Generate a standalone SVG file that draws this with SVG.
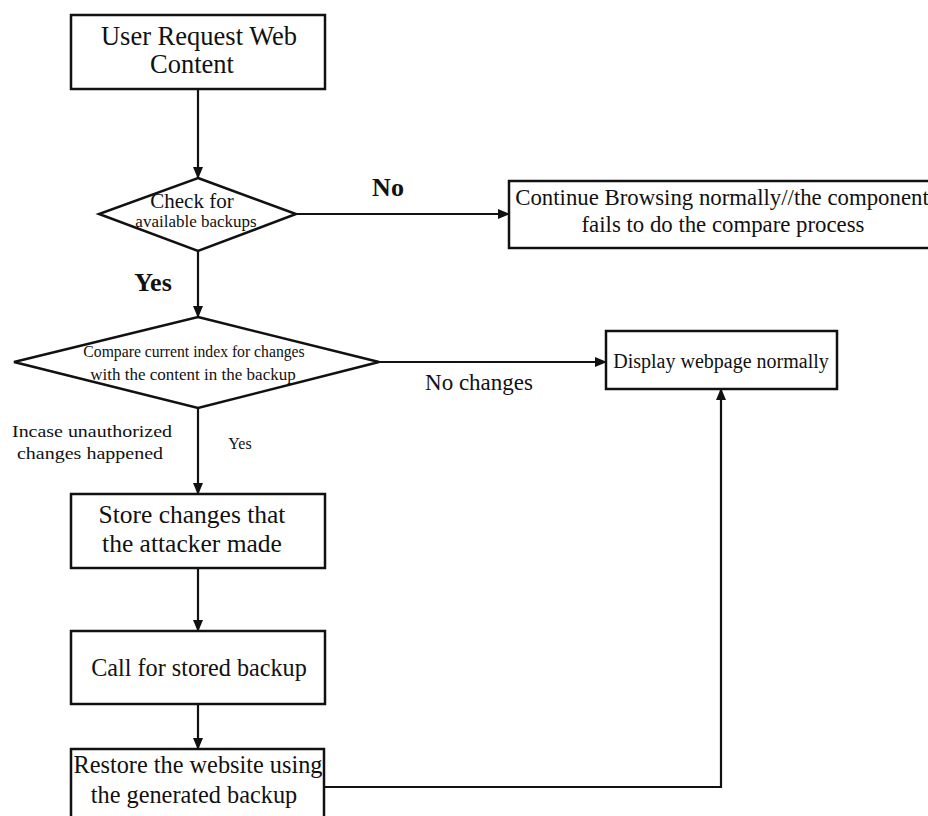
<svg xmlns="http://www.w3.org/2000/svg" width="928" height="816" viewBox="0 0 928 816">
<style>
.box{fill:#fff;stroke:#111;stroke-width:2.5}
.ln{fill:none;stroke:#111;stroke-width:2.2}
text{font-family:"Liberation Serif","Times New Roman",serif;fill:#111;text-anchor:middle}
.b{font-weight:bold}
</style>
<defs>
<marker id="ah" markerWidth="12" markerHeight="10" refX="11" refY="5" orient="auto" markerUnits="userSpaceOnUse">
<path d="M0,0 L12,5 L0,10 Z" fill="#111"/>
</marker>
</defs>
<rect width="928" height="816" fill="#fff"/>
<g id="connectors">
<line class="ln" x1="198" y1="89" x2="198" y2="178" marker-end="url(#ah)"/>
<line class="ln" x1="198" y1="251" x2="198" y2="317" marker-end="url(#ah)"/>
<line class="ln" x1="296" y1="214" x2="509" y2="214" marker-end="url(#ah)"/>
<line class="ln" x1="379" y1="362" x2="606" y2="362" marker-end="url(#ah)"/>
<line class="ln" x1="198" y1="408" x2="198" y2="494" marker-end="url(#ah)"/>
<line class="ln" x1="198" y1="568" x2="198" y2="631" marker-end="url(#ah)"/>
<line class="ln" x1="198" y1="704" x2="198" y2="749" marker-end="url(#ah)"/>
<polyline class="ln" points="324,787 721,787 721,389" marker-end="url(#ah)"/>
<text x="388" y="196" font-size="26" class="b">No</text>
<text x="153" y="291" font-size="26" class="b">Yes</text>
<text x="479" y="390" font-size="23">No changes</text>
<text x="92" y="437" font-size="17" textLength="160" lengthAdjust="spacingAndGlyphs">Incase unauthorized</text>
<text x="90" y="459" font-size="17" textLength="146" lengthAdjust="spacingAndGlyphs">changes happened</text>
<text x="240" y="449" font-size="16">Yes</text>
</g>
<g id="n1">
<rect class="box" x="71" y="15" width="254" height="74"/>
<text x="199" y="45" font-size="26.5">User Request Web</text>
<text x="192" y="73" font-size="26.5">Content</text>
</g>
<g id="n2">
<polygon class="box" points="198,178 296,214 198,251 99,214"/>
<text x="192" y="208" font-size="21">Check for</text>
<text x="196" y="227" font-size="17">available backups</text>
</g>
<g id="n3">
<rect class="box" x="509" y="181" width="430" height="67"/>
<text x="722" y="205" font-size="22.8">Continue Browsing normally//the component</text>
<text x="723" y="232" font-size="22.8">fails to do the compare process</text>
</g>
<g id="n4">
<polygon class="box" points="198,317 379,362 198,408 14,362"/>
<text x="194" y="357" font-size="15.7">Compare current index for changes</text>
<text x="193" y="380" font-size="17">with the content in the backup</text>
</g>
<g id="n5">
<rect class="box" x="606" y="331" width="231" height="58"/>
<text x="721" y="368" font-size="20">Display webpage normally</text>
</g>
<g id="n6">
<rect class="box" x="71" y="494" width="254" height="74"/>
<text x="192" y="523" font-size="25.5">Store changes that</text>
<text x="192" y="552" font-size="25.5">the attacker made</text>
</g>
<g id="n7">
<rect class="box" x="71" y="631" width="254" height="73"/>
<text x="199" y="676" font-size="24.2">Call for stored backup</text>
</g>
<g id="n8">
<rect class="box" x="71" y="749" width="253" height="70"/>
<text x="198" y="773" font-size="24.3">Restore the website using</text>
<text x="194" y="803" font-size="24.3">the generated backup</text>
</g>
</svg>
